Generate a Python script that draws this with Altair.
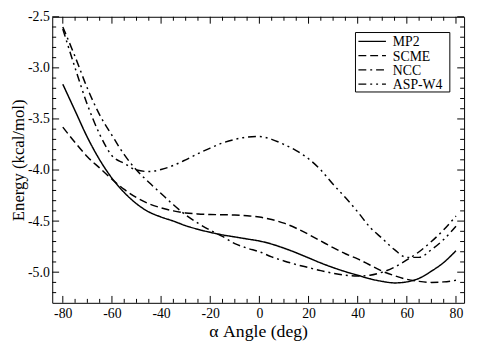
import altair as alt
import pandas as pd

FONT = "Liberation Serif"

angles = [-80, -75, -70, -65, -60, -55, -50, -45, -40, -35, -30, -25, -20, -15, -10, -5,
          0, 5, 10, 15, 20, 25, 30, 35, 40, 45, 50, 55, 60, 65, 70, 75, 80]

mp2 = [-3.16, -3.42, -3.68, -3.90, -4.08, -4.22, -4.33, -4.41, -4.46, -4.50, -4.545,
       -4.58, -4.61, -4.635, -4.655, -4.675, -4.695, -4.725, -4.765, -4.81, -4.86,
       -4.91, -4.955, -4.995, -5.03, -5.065, -5.09, -5.105, -5.095, -5.06, -4.99,
       -4.905, -4.79]

scme = [-3.58, -3.73, -3.87, -3.98, -4.09, -4.19, -4.27, -4.33, -4.37, -4.40, -4.42,
        -4.43, -4.435, -4.438, -4.44, -4.448, -4.46, -4.485, -4.52, -4.57, -4.63,
        -4.695, -4.76, -4.82, -4.87, -4.93, -4.99, -5.035, -5.07, -5.09, -5.10,
        -5.095, -5.08]

ncc = [-2.60, -2.89, -3.20, -3.46, -3.66, -3.85, -4.00, -4.12, -4.23, -4.34, -4.44,
       -4.52, -4.59, -4.65, -4.72, -4.765, -4.80, -4.85, -4.89, -4.925, -4.955,
       -4.985, -5.01, -5.03, -5.038, -5.03, -5.00, -4.95, -4.88, -4.80, -4.70,
       -4.585, -4.45]

asp_w4 = [-2.62, -3.00, -3.36, -3.65, -3.86, -3.935, -4.00, -4.015, -3.995, -3.955,
          -3.90, -3.84, -3.785, -3.735, -3.70, -3.678, -3.672, -3.70, -3.75, -3.81,
          -3.89, -4.00, -4.14, -4.27, -4.41, -4.56, -4.67, -4.78, -4.855, -4.855,
          -4.78, -4.68, -4.55]

series = ["MP2", "SCME", "NCC", "ASP-W4"]

x_major = [-80, -60, -40, -20, 0, 20, 40, 60, 80]
x_minor = [-75, -70, -65, -55, -50, -45, -35, -30, -25, -15, -10, -5,
           5, 10, 15, 25, 30, 35, 45, 50, 55, 65, 70, 75]
y_major = [-5.0, -4.5, -4.0, -3.5, -3.0, -2.5]
y_minor = [-5.2, -5.1, -4.9, -4.8, -4.7, -4.6, -4.4, -4.3, -4.2, -4.1,
           -3.9, -3.8, -3.7, -3.6, -3.4, -3.3, -3.2, -3.1, -2.9, -2.8, -2.7, -2.6]

rows = []
for name, vals in zip(series, [mp2, scme, ncc, asp_w4]):
    for a, e in zip(angles, vals):
        rows.append({"angle": a, "energy": e, "series": name})
df = pd.DataFrame(rows)

W, H = 419, 291
MINUS_FIX = "replace(datum.label, '\u2212', '-')"

xs = alt.Scale(domain=[-84.3, 83.3], nice=False, zero=False)
ys = alt.Scale(domain=[-5.3, -2.5], nice=False, zero=False)
dash_scale = alt.Scale(domain=series,
                       range=[[1, 0], [8, 4], [8, 4, 2, 4], [8, 4, 2, 4, 2, 4]])

x_axis = alt.Axis(title="\u03b1 Angle (deg)", values=x_major, format="d",
                  labelExpr=MINUS_FIX, ticks=False, domain=False,
                  grid=False, labelFont=FONT, labelFontSize=14, labelPadding=4,
                  labelColor="black", titleFont=FONT, titleFontSize=18,
                  titleFontWeight="normal", titleColor="black", titlePadding=2)
y_axis = alt.Axis(title="Energy (kcal/mol)", values=y_major, format=".1f",
                  labelExpr=MINUS_FIX, ticks=False, domain=False,
                  grid=False, labelFont=FONT, labelFontSize=14, labelPadding=3,
                  labelColor="black", titleFont=FONT, titleFontSize=17,
                  titleFontWeight="normal", titleColor="black", titlePadding=0)

lines = alt.Chart(df).mark_line(color="black", strokeWidth=1.5, interpolate="monotone").encode(
    x=alt.X("angle:Q", scale=xs, axis=x_axis),
    y=alt.Y("energy:Q", scale=ys, axis=y_axis),
    strokeDash=alt.StrokeDash("series:N", scale=dash_scale, legend=None),
)


def xticks(vals, y0, y1):
    return alt.Chart(pd.DataFrame({"v": vals})).mark_rule(color="black", strokeWidth=1).encode(
        x=alt.X("v:Q", scale=xs, axis=x_axis), y=alt.value(y0), y2=alt.value(y1))


def yticks(vals, x0, x1):
    return alt.Chart(pd.DataFrame({"v": vals})).mark_rule(color="black", strokeWidth=1).encode(
        y=alt.Y("v:Q", scale=ys, axis=y_axis), x=alt.value(x0), x2=alt.value(x1))


ticks = [
    xticks(x_major, H, H - 7), xticks(x_minor, H, H - 4),
    xticks(x_major, 0, 7), xticks(x_minor, 0, 4),
    yticks(y_major, 0, 7), yticks(y_minor, 0, 4),
    yticks(y_major, W, W - 7), yticks(y_minor, W, W - 4),
]

# legend (drawn by hand, in pixel space of the plot area)
LEG_LEFT, LEG_RIGHT, LEG_TOP, LEG_BOTTOM = 308.5, 404.5, 16, 76.5
LEG_ROWS = [25, 39.5, 54, 68.5]
leg_df = pd.DataFrame({"series": series})

legend_layers = [
    alt.Chart(pd.DataFrame({"a": [0]})).mark_rect(
        fill="white", stroke="black", strokeWidth=1).encode(
        x=alt.value(LEG_LEFT), x2=alt.value(LEG_RIGHT),
        y=alt.value(LEG_TOP), y2=alt.value(LEG_BOTTOM))
]
for name, ry in zip(series, LEG_ROWS):
    base = alt.Chart(leg_df).transform_filter(alt.datum.series == name)
    legend_layers.append(
        base.mark_rule(color="black", strokeWidth=1.5).encode(
            x=alt.value(LEG_LEFT + 3), x2=alt.value(LEG_LEFT + 31), y=alt.value(ry),
            strokeDash=alt.StrokeDash("series:N", scale=dash_scale, legend=None)))
    legend_layers.append(
        base.mark_text(align="left", baseline="middle", font=FONT, fontSize=14,
                       color="black").encode(
            x=alt.value(LEG_LEFT + 38), y=alt.value(ry + 1), text="series:N"))

chart = alt.layer(lines, *legend_layers, *ticks).properties(
    width=W, height=H,
    autosize=alt.AutoSizeParams(type="none"),
    padding={"left": 45, "top": 6, "right": 5, "bottom": 42},
).configure(
    font=FONT,
    style={"guide-label": {"font": FONT, "fill": "black"},
           "guide-title": {"font": FONT, "fill": "black", "fontWeight": "normal"}},
).configure_axis(
    labelFont=FONT, titleFont=FONT, labelColor="black", titleColor="black",
    titleFontWeight="normal"
).configure_axisX(labelFont=FONT, titleFont=FONT).configure_axisY(
    labelFont=FONT, titleFont=FONT
).configure_view(stroke="black", strokeWidth=1)

chart.save("out.html", embed_options={"renderer": "svg", "actions": False})
